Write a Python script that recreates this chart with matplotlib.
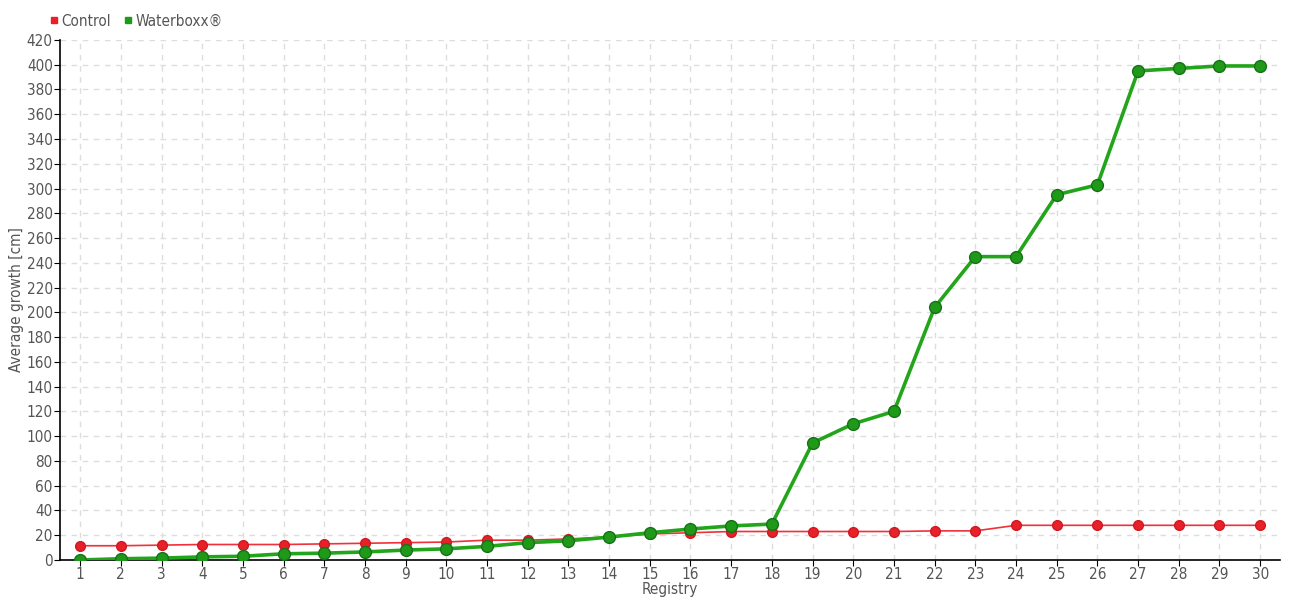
import matplotlib
matplotlib.use("Agg")
import matplotlib.pyplot as plt
from matplotlib.lines import Line2D

registry = list(range(1, 31))
control = [11.5, 11.5, 12, 12.5, 12.5, 12.5, 13, 13.5, 14, 14.5,
           16, 16, 17, 18.5, 21, 22, 23, 23, 23, 23,
           23, 23.5, 23.5, 28, 28, 28, 28, 28, 28, 28]
waterboxx = [0, 1, 1.5, 2.5, 3, 5, 5.5, 6.5, 8, 9,
             11, 14, 15.5, 18.5, 22, 25, 27.5, 29, 94.5, 110,
             120, 204, 245, 245, 295, 303, 395, 397, 399, 399]
y_ticks = list(range(0, 421, 20))

plt.rcParams["font.family"] = ["DejaVu Sans", "Noto Sans"]
plt.rcParams["font.stretch"] = "condensed"
plt.rcParams["font.weight"] = "light"
text_color = "#555555"

fig = plt.figure(figsize=(13, 6), dpi=100)
ax = fig.add_axes([0.046, 0.0667, 0.939, 0.8667])

ax.plot(registry, control, color="#f0303a", lw=1.2, marker="o", ms=7,
        mfc="#e8202a", mec="#d01820", zorder=3)
ax.plot(registry, waterboxx, color="#22a51a", lw=2.6, marker="o", ms=8.5,
        mfc="#1f9a18", mec="#17701a", mew=1, zorder=4)

ax.set_xlim(0.5, 30.5)
ax.set_ylim(0, 420)
ax.set_xticks(registry)
ax.set_yticks(y_ticks)
ax.grid(True, color="#dddddd", ls=(0, (4, 4)), lw=1)
ax.set_axisbelow(True)
for s in ("top", "right"):
    ax.spines[s].set_visible(False)
for s in ("left", "bottom"):
    ax.spines[s].set_color("black")
    ax.spines[s].set_linewidth(1.2)
ax.tick_params(axis="both", colors="black", labelcolor=text_color,
               labelsize=11, length=4, direction="out")
ax.tick_params(axis="y", pad=1)
ax.tick_params(axis="x", pad=1)

ax.set_xlabel("Registry", color=text_color, fontsize=11, labelpad=0)
ax.set_ylabel("Average growth [cm]", color=text_color, fontsize=11)
ax.yaxis.set_label_coords(-0.029, 0.5)

handles = [
    Line2D([], [], ls="none", marker="s", ms=5, color="#e8202a"),
    Line2D([], [], ls="none", marker="s", ms=5, color="#1f9a18"),
]
fig.legend(handles, ["Control", "Waterboxx®"], loc="upper left",
           bbox_to_anchor=(0.025, 1.0), ncol=2, frameon=False,
           handletextpad=0.0, columnspacing=0.6, handlelength=1.0,
           fontsize=11, labelcolor=text_color)

fig.savefig("out.png", dpi=100)
